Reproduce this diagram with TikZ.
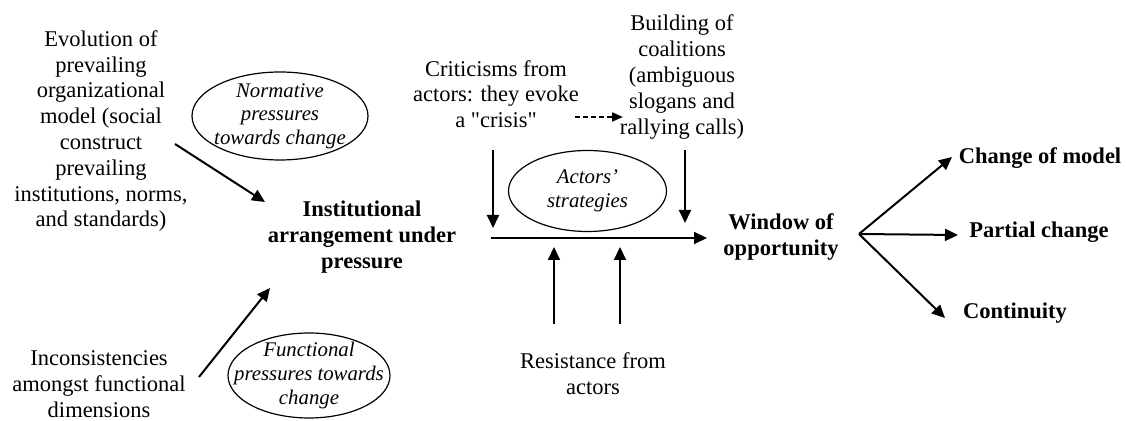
\documentclass[tikz,border=0pt]{standalone}
\usepackage{fontspec}
\setmainfont{Liberation Serif}[Ligatures=TeXOff]
\usetikzlibrary{arrows.meta, shapes.geometric}

\begin{document}
\begin{tikzpicture}[x=0.5pt, y=-0.5pt, font=\fontsize{11.25}{12.9}\selectfont,
 every node/.style={align=center, inner sep=0pt},
 bold node/.style={font=\fontsize{11.25}{12.9}\selectfont\bfseries},
 oval node/.style={ellipse, draw, line width=0.6pt},
 oval text/.style={font=\fontsize{10.4}{11.8}\selectfont\itshape},
 link/.style={line width=1pt, -{Triangle[length=6.5pt,width=6pt]}},
 dash link/.style={line width=0.9pt, dash pattern=on 2.5pt off 1.5pt,
   -{Triangle[length=5.5pt,width=4.5pt]}}]

  \useasboundingbox (0,0) rectangle (1126,421);

  \node (evol) at (101,131) {Evolution of\\prevailing\\organizational\\model (social\\construct\\prevailing\\institutions, norms,\\and standards)};
  \node (incons) at (99,384) {Inconsistencies\\amongst functional\\dimensions};
  \node[bold node] (inst) at (362,237) {Institutional\\arrangement under\\pressure};
  \node (crit) at (496,94) {Criticisms from\\actors: they evoke\\a "crisis"};
  \node (build) at (682,77) {Building of\\coalitions\\(ambiguous\\slogans and\\rallying calls)};
  \node (resist) at (593,374) {Resistance from\\actors};
  \node[bold node] (window) at (781,237) {Window of\\opportunity};
  \node[bold node] (change) at (1040,158) {Change of model};
  \node[bold node] (partial) at (1039,232) {Partial change};
  \node[bold node] (cont) at (1015,313) {Continuity};

  \node[oval node, minimum width=88pt, minimum height=44pt] (norm) at (280,116) {};
  \node[oval text] (normtext) at (norm) {Normative\\pressures\\towards change};
  \node[oval node, minimum width=81pt, minimum height=42.5pt] (func) at (309,375.5) {};
  \node[oval text] (functext) at (func) {Functional\\pressures towards\\change};
  \node[oval node, minimum width=79pt, minimum height=40.5pt] (strat) at (587.5,191) {};
  \node[oval text] (strattext) at (strat) {Actors’\\strategies};

  \coordinate (e1s) at (175,144);  \coordinate (e1t) at (265,202);
  \coordinate (e2s) at (199,377);  \coordinate (e2t) at (270,288);
  \coordinate (hs) at (491,238);   \coordinate (ht) at (707,238);
  \coordinate (d1s) at (493,150);  \coordinate (d1t) at (493,228);
  \coordinate (d2s) at (685,150);  \coordinate (d2t) at (685,223);
  \coordinate (u1s) at (554,324);  \coordinate (u1t) at (554,247);
  \coordinate (u2s) at (620,324);  \coordinate (u2t) at (620,247);
  \coordinate (fs) at (575,117);   \coordinate (ft) at (623,117);
  \coordinate (fork) at (859,234);
  \coordinate (b1) at (952,157);   \coordinate (b2) at (958,235);
  \coordinate (b3) at (945,318);

  \foreach \s/\t in {e1s/e1t, e2s/e2t, hs/ht, d1s/d1t, d2s/d2t, u1s/u1t, u2s/u2t,
    fork/b1, fork/b2, fork/b3} {
   \draw[link] (\s) -- (\t);}
  \draw[dash link] (fs) -- (ft);
\end{tikzpicture}
\end{document}
